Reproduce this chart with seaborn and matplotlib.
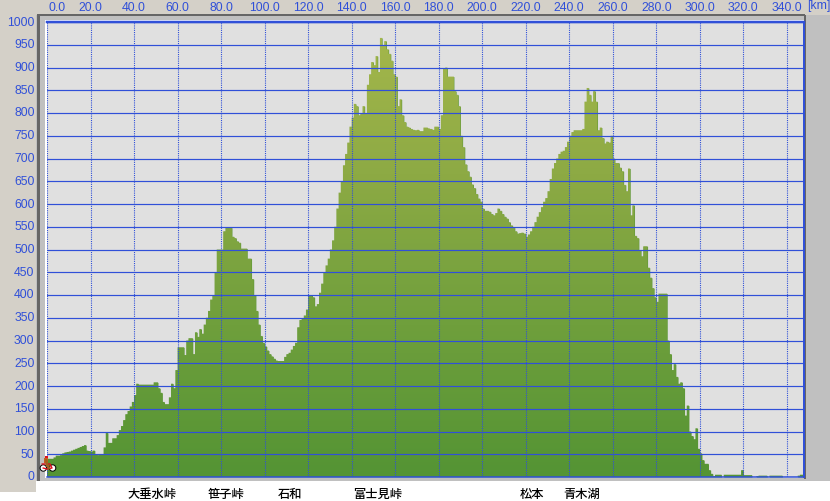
import numpy as np
import pandas as pd
import matplotlib
matplotlib.use('Agg')
import matplotlib.pyplot as plt
from matplotlib.colors import LinearSegmentedColormap
from matplotlib.patches import Rectangle, Circle
from matplotlib.transforms import ScaledTranslation
import seaborn as sns

# elevation [m], one value per km
elev_000 = [40,40,40,43,47,47,48,52,54,55]
elev_010 = [56,58,60,62,64,66,68,70,58,57]
elev_020 = [56,58,50,48,50,50,65,97,75,75]
elev_030 = [85,85,92,103,112,125,138,145,155,165]
elev_040 = [180,205,203,203,203,203,203,203,203,208]
elev_050 = [208,195,185,165,160,160,175,205,195,235]
elev_060 = [285,285,285,268,300,305,305,270,318,308]
elev_070 = [325,315,335,350,365,390,400,450,500,500]
elev_080 = [500,540,548,548,548,528,525,518,515,502]
elev_090 = [502,502,480,480,435,400,365,335,310,295]
elev_100 = [287,278,270,265,260,256,255,255,255,264]
elev_110 = [270,273,280,288,295,329,345,348,355,368]
elev_120 = [400,400,395,375,380,405,425,450,465,480]
elev_130 = [500,520,550,590,625,650,685,710,735,770]
elev_140 = [790,820,815,795,800,815,800,862,885,912]
elev_150 = [905,925,890,965,948,958,940,930,915,885]
elev_160 = [880,815,830,795,780,770,768,765,763,762]
elev_170 = [763,760,760,768,768,766,765,763,770,770]
elev_180 = [765,795,897,900,880,880,880,848,840,815]
elev_190 = [750,725,687,672,660,643,635,622,612,605]
elev_200 = [590,585,585,583,578,575,580,590,585,578]
elev_210 = [572,568,560,553,548,540,535,536,537,535]
elev_220 = [528,533,540,550,560,572,582,593,605,613]
elev_230 = [628,655,678,690,700,710,715,717,725,737]
elev_240 = [750,758,762,762,762,762,765,825,855,840]
elev_250 = [825,848,825,762,768,745,733,737,735,750]
elev_260 = [700,690,690,680,672,642,628,678,575,597]
elev_270 = [530,525,498,485,507,507,460,438,415,395]
elev_280 = [385,403,403,403,403,300,270,235,248,220]
elev_290 = [205,208,195,135,157,100,90,83,107,62]
elev_300 = [52,37,29,29,15,7,2,5,5,5]
elev_310 = [0,5,5,5,5,5,5,5,5,15]
elev_320 = [4,4,4,4,0,0,2,3,3,3]
elev_330 = [3,0,3,3,3,3,3,3,0,0]
elev_340 = [0,0,0,0,0,3,5,5]

elevation = (elev_000 + elev_010 + elev_020 + elev_030 + elev_040 + elev_050 + elev_060
             + elev_070 + elev_080 + elev_090 + elev_100 + elev_110 + elev_120 + elev_130
             + elev_140 + elev_150 + elev_160 + elev_170 + elev_180 + elev_190 + elev_200
             + elev_210 + elev_220 + elev_230 + elev_240 + elev_250 + elev_260 + elev_270
             + elev_280 + elev_290 + elev_300 + elev_310 + elev_320 + elev_330 + elev_340)
km = list(range(len(elevation)))

x_ticks = list(range(0, 341, 20))
x_labels = ['%.1f' % v for v in x_ticks]
y_ticks = list(range(0, 1001, 50))
y_labels = [str(v) for v in y_ticks]

place_names = ['大垂水峠', '笹子峠', '石和', '富士見峠', '松本', '青木湖']
place_km = [48.3, 82.3, 111.7, 152.1, 222.9, 245.9]

BLUE = '#3050D8'
W, H = 830, 502
px = 72 / 100  # one pixel in points

sns.set_style('white')
plt.rcParams['font.family'] = ['Liberation Sans', 'DejaVu Sans']

df = pd.DataFrame({'km': km, 'elevation': elevation})

fig = plt.figure(figsize=(W / 100, H / 100), dpi=100, facecolor='white')

# window chrome behind the plot
bg = fig.add_axes([0, 0, 1, 1], zorder=0)
bg.set_xlim(0, W)
bg.set_ylim(H, 0)
bg.axis('off')
bg.add_patch(Rectangle((0, 0), W, 16, color='#D4D0C8', lw=0))
bg.add_patch(Rectangle((0, 0), 36, 493, color='#D4D0C8', lw=0))
bg.add_patch(Rectangle((36, 16), W - 36, 466, color='#C0C0C0', lw=0))
bg.add_patch(Rectangle((37, 15), 768, 2, color='#666666', lw=0))
bg.add_patch(Rectangle((37, 15), 3, 467, color='#666666', lw=0))
bg.add_patch(Rectangle((804, 16), 2, 464, color='#666666', lw=0))
bg.add_patch(Rectangle((45, 21), 759, 458, color='white', lw=0))

ax = fig.add_axes([47 / W, 1 - 478 / H, 757 / W, 455 / H], zorder=1)
ax.set_facecolor('#E0E0E0')

sns.histplot(data=df, x='km', weights='elevation', bins=list(range(len(km) + 1)),
             element='step', fill=True, linewidth=0, alpha=1, color='#5A9636', ax=ax)
profile = ax.collections[0]

# height shaded fill, clipped to the profile outline
cmap = LinearSegmentedColormap.from_list('relief', ['#549434', '#6F9F3C', '#8DAA44', '#A6B84C'])
xmax = 757 / 2.176
grad = ax.imshow(np.linspace(0, 1, 256).reshape(-1, 1), cmap=cmap, origin='lower', aspect='auto',
                 extent=[0, xmax, 0, 1000], zorder=1, interpolation='bilinear')
grad.set_clip_path(profile.get_paths()[0], ax.transData)

ax.set_xlim(0, xmax)
ax.set_ylim(0, 1000)
ax.set_xlabel('')
ax.set_ylabel('')

ax.set_axisbelow(False)
ax.xaxis.tick_top()
ax.set_xticks(x_ticks, x_labels)
ax.set_yticks(y_ticks, y_labels)
ax.grid(axis='y', color=BLUE, lw=1.2 * px, ls='-')
ax.grid(axis='x', color=BLUE, lw=1.1 * px, ls=(0, (1, 1)))
ax.tick_params(axis='both', length=0, labelcolor=BLUE, labelsize=8.8)
ax.tick_params(axis='x', pad=6.5)
ax.tick_params(axis='y', pad=9)

up = ScaledTranslation(0, 2 / 100, fig.dpi_scale_trans)
for lab in ax.get_yticklabels():
    lab.set_transform(lab.get_transform() + up)
first = ax.get_xticklabels()[0]
first.set_transform(first.get_transform() + ScaledTranslation(10 / 100, 0, fig.dpi_scale_trans))

ax.spines['left'].set_visible(False)
ax.spines['top'].set_color(BLUE)
ax.spines['top'].set_linewidth(2.5 * px)
ax.spines['right'].set_color(BLUE)
ax.spines['right'].set_linewidth(2 * px)
ax.spines['bottom'].set_color(BLUE)
ax.spines['bottom'].set_linewidth(1.5 * px)

ax.text(1.004, 1.037, '[km]', transform=ax.transAxes, color=BLUE, fontsize=8.8,
        ha='left', va='center', clip_on=False)

for name, pos in zip(place_names, place_km):
    ax.text(pos, -0.037, name, transform=ax.get_xaxis_transform(), ha='center', va='center',
            fontsize=8.8, color='black', family=['Noto Sans CJK JP', 'DejaVu Sans'], fontweight='medium')

# little cyclist on the start point
top = fig.add_axes([0, 0, 1, 1], zorder=2)
top.set_xlim(0, W)
top.set_ylim(H, 0)
top.axis('off')
top.patch.set_alpha(0)
for cx in [43.3, 52.6]:
    top.add_patch(Circle((cx, 469), 3.2, fc='white', ec='black', lw=1 * px))
top.plot([42, 50, 52, 47, 43], [465, 465, 469, 470, 469], color='#E0101C', lw=1.4 * px)
top.plot([46, 47, 49], [461, 466, 469], color='#A06020', lw=2.5 * px)
top.add_patch(Rectangle((44, 459), 4, 5, color='#C86020', lw=0))
top.add_patch(Rectangle((45, 456.5), 2.5, 2.5, color='#E0101C', lw=0))

plt.savefig('out.png', dpi=100)
